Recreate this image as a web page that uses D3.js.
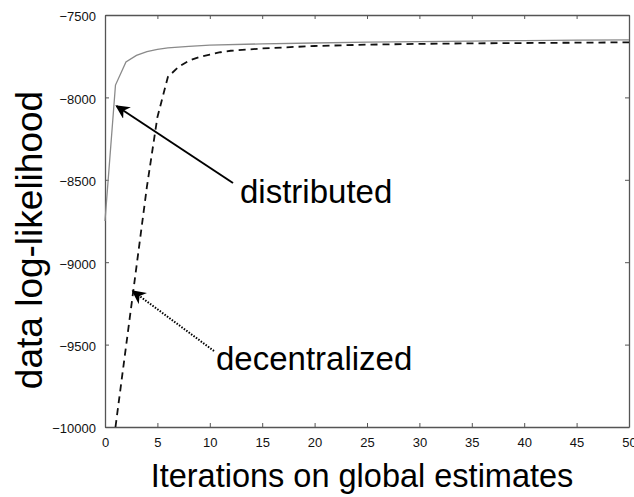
<!DOCTYPE html>
<html><head><meta charset="utf-8">
<script src="https://cdn.jsdelivr.net/npm/d3@7"></script>
<style>body{margin:0;background:#fff;} svg{display:block;}</style>
</head><body>
<script>
const distIter = [0,1,2,3,4,5,6,8,10,15,20,25,30,35,40,45,50];
const distVals = [-8750,-7925,-7785,-7745,-7722,-7708,-7700,-7690,-7683,-7675,-7670,-7665,-7661,-7658,-7655,-7653,-7651];
const decIter = [1,2,3,4,5,6,7,8,9,10,11,12,15,20,25,30,35,40,45,50];
const decVals = [-10000,-9514,-9028,-8542,-8120,-7876,-7816,-7777,-7755,-7740,-7726,-7717,-7703,-7688,-7680,-7675,-7672,-7670,-7668,-7666];
const xTicks = [0,5,10,15,20,25,30,35,40,45,50];
const yTicks = [-7500,-8000,-8500,-9000,-9500,-10000];
const xLabel = "Iterations on global estimates";
const yLabel = "data log-likelihood";
const annoDist = {label:"distributed", iter:1, val:-7925};
const annoDec = {label:"decentralized", iter:2.65, val:-9175};

const W=634,H=497;
const m={l:105,r:629,t:15,b:427};
const svg=d3.select("body").append("svg").attr("width",W).attr("height",H);
svg.append("rect").attr("width",W).attr("height",H).attr("fill","#fff");
const x=d3.scaleLinear().domain([0,50]).range([m.l,m.r]);
const y=d3.scaleLinear().domain([-10000,-7500]).range([m.b,m.t]);
const fmt=d=>String(d).replace("-","\u2212");
const axc="#555";
const tickFont="Liberation Sans, Arial, Helvetica, sans-serif";

// axes with inward ticks
const gB=svg.append("g").attr("transform",`translate(0,${m.b})`)
  .call(d3.axisBottom(x).tickValues(xTicks).tickSizeInner(-4).tickSizeOuter(0).tickPadding(11).tickFormat(d=>d));
const gT=svg.append("g").attr("transform",`translate(0,${m.t})`)
  .call(d3.axisTop(x).tickValues(xTicks).tickSizeInner(-4).tickSizeOuter(0).tickFormat(""));
const gL=svg.append("g").attr("transform",`translate(${m.l},0)`)
  .call(d3.axisLeft(y).tickValues(yTicks).tickSizeInner(-4).tickSizeOuter(0).tickPadding(9).tickFormat(fmt));
const gR=svg.append("g").attr("transform",`translate(${m.r},0)`)
  .call(d3.axisRight(y).tickValues(yTicks).tickSizeInner(-4).tickSizeOuter(0).tickFormat(""));
[gB,gT,gL,gR].forEach(g=>{
  g.select(".domain").attr("stroke",axc).attr("stroke-width",1.3);
  g.selectAll(".tick line").attr("stroke",axc);
  g.selectAll(".tick text").attr("fill","#111").attr("font-family",tickFont).attr("font-size",13);
});
gL.selectAll(".tick text").attr("dy","0.45em");

// lines
const line=d3.line().x(d=>x(d[0])).y(d=>y(d[1]));
svg.append("path").datum(distIter.map((d,i)=>[d,distVals[i]]))
  .attr("d",line).attr("fill","none").attr("stroke","#8a8a8a").attr("stroke-width",1.3);
svg.append("path").datum(decIter.map((d,i)=>[d,decVals[i]]))
  .attr("d",line).attr("fill","none").attr("stroke","#111").attr("stroke-width",1.8).attr("stroke-dasharray","7,5");

// arrow markers
const defs=svg.append("defs");
defs.append("marker").attr("id","ah2").attr("viewBox","0 0 10 10").attr("refX",9).attr("refY",5)
  .attr("markerWidth",14).attr("markerHeight",14).attr("orient","auto").attr("markerUnits","userSpaceOnUse")
  .append("path").attr("d","M0,0 L10,5 L0,10 L3,5 Z").attr("fill","#000");

const labFont="Liberation Sans, Arial, Helvetica, sans-serif";
// distributed
svg.append("line").attr("x1",233).attr("y1",183).attr("x2",x(annoDist.iter)+1).attr("y2",y(annoDist.val)+21)
  .attr("stroke","#000").attr("stroke-width",2).attr("marker-end","url(#ah2)");
svg.append("text").attr("x",240).attr("y",203).text(annoDist.label)
  .attr("font-family",labFont).attr("font-size",33).attr("fill","#000");
// decentralized
svg.append("line").attr("x1",214).attr("y1",351).attr("x2",x(annoDec.iter)).attr("y2",y(annoDec.val))
  .attr("stroke","#000").attr("stroke-width",2).attr("stroke-dasharray","1.5,1.5").attr("marker-end","url(#ah2)");
svg.append("text").attr("x",216).attr("y",370).text(annoDec.label)
  .attr("font-family",labFont).attr("font-size",33).attr("fill","#000");

// axis labels
svg.append("text").attr("x",362).attr("y",487).attr("text-anchor","middle").text(xLabel)
  .attr("font-family",labFont).attr("font-size",32.5).attr("fill","#000");
svg.append("text").attr("transform","translate(42,240) rotate(-90)").attr("text-anchor","middle").text(yLabel)
  .attr("font-family",labFont).attr("font-size",37).attr("fill","#000");
</script>
</body></html>
